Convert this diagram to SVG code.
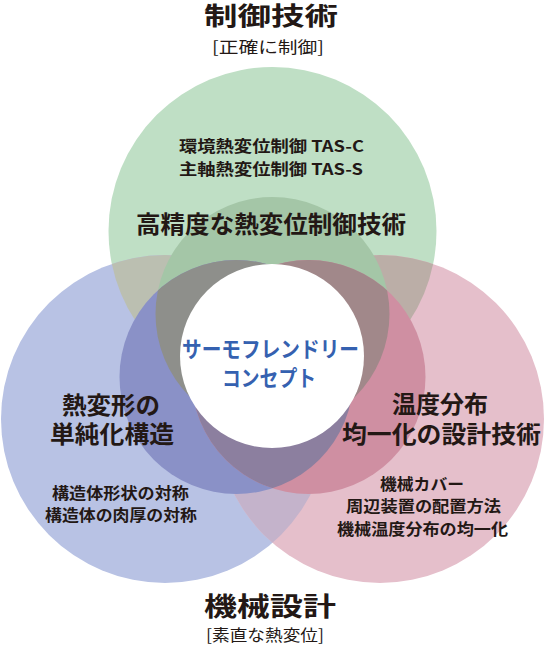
<svg xmlns="http://www.w3.org/2000/svg" xmlns:xlink="http://www.w3.org/1999/xlink" width="546" height="648" viewBox="0 0 546 648">
<style>
text{font-family:"Noto Sans CJK JP","Noto Sans",sans-serif;fill:#231815}
.t{font-size:24px;font-weight:700}
.sub{font-size:16px;font-weight:400}
.lab{font-size:24px;font-weight:700}
.it{font-size:15.5px;font-weight:700}
.cc{font-size:22px;font-weight:700;fill:#3561b0}
</style>
<defs>
<circle id="bg" cx="272.5" cy="231" r="164"/>
<circle id="bb" cx="165" cy="419" r="164"/>
<circle id="bp" cx="380" cy="419" r="164"/>
<circle id="ig" cx="272.5" cy="314" r="117"/>
<circle id="ib" cx="236.5" cy="377" r="117"/>
<circle id="ip" cx="308.5" cy="377" r="117"/>
<clipPath id="cbb"><use xlink:href="#bb"/></clipPath>
<clipPath id="cbp"><use xlink:href="#bp"/></clipPath>
<clipPath id="cib"><use xlink:href="#ib"/></clipPath>
<clipPath id="cip"><use xlink:href="#ip"/></clipPath>
</defs>
<g id="venn-fills">
<use xlink:href="#bg" fill="#bfdfc5"/>
<use xlink:href="#bb" fill="#b8c2e4"/>
<use xlink:href="#bp" fill="#e5bfcb"/>
<g clip-path="url(#cbb)"><use xlink:href="#bg" fill="#bbbfb1"/></g>
<g clip-path="url(#cbp)"><use xlink:href="#bg" fill="#bbaea7"/></g>
<g clip-path="url(#cbp)"><use xlink:href="#bb" fill="#c4b3cb"/></g>
<use xlink:href="#ig" fill="#a4c6a7"/>
<use xlink:href="#ib" fill="#8a91c7"/>
<use xlink:href="#ip" fill="#cf8fa2"/>
<g clip-path="url(#cib)"><use xlink:href="#ig" fill="#8e8f8b"/></g>
<g clip-path="url(#cip)"><use xlink:href="#ig" fill="#a1888a"/></g>
<g clip-path="url(#cip)"><use xlink:href="#ib" fill="#8c7f9f"/></g>
<g clip-path="url(#cip)"><g clip-path="url(#cib)"><use xlink:href="#ig" fill="#8e8590"/></g></g>
</g>
<g id="connectors"/>
<g id="node-control">
<text class="t" x="204" y="25" textLength="134" lengthAdjust="spacingAndGlyphs" style="font-size:25px">制御技術</text>
<text class="sub" x="212" y="52.5" textLength="112" lengthAdjust="spacingAndGlyphs">[正確に制御]</text>
<text class="it" x="179" y="152" textLength="185" lengthAdjust="spacingAndGlyphs">環境熱変位制御 TAS-C</text>
<text class="it" x="179" y="175" textLength="184" lengthAdjust="spacingAndGlyphs">主軸熱変位制御 TAS-S</text>
<text class="lab" x="136" y="233" textLength="270" lengthAdjust="spacingAndGlyphs">高精度な熱変位制御技術</text>
</g>
<g id="node-structure">
<text class="lab" x="62" y="414" textLength="98" lengthAdjust="spacingAndGlyphs">熱変形の</text>
<text class="lab" x="50" y="443" textLength="124" lengthAdjust="spacingAndGlyphs">単純化構造</text>
<text class="it" x="52" y="499" textLength="137" lengthAdjust="spacingAndGlyphs">構造体形状の対称</text>
<text class="it" x="45" y="521" textLength="152" lengthAdjust="spacingAndGlyphs">構造体の肉厚の対称</text>
</g>
<g id="node-temperature">
<text class="lab" x="392" y="413" textLength="96" lengthAdjust="spacingAndGlyphs">温度分布</text>
<text class="lab" x="342" y="443" textLength="199" lengthAdjust="spacingAndGlyphs">均一化の設計技術</text>
<text class="it" x="380" y="490" textLength="84" lengthAdjust="spacingAndGlyphs">機械カバー</text>
<text class="it" x="346" y="512" textLength="155" lengthAdjust="spacingAndGlyphs">周辺装置の配置方法</text>
<text class="it" x="337" y="535" textLength="171" lengthAdjust="spacingAndGlyphs">機械温度分布の均一化</text>
</g>
<g id="node-mechanical">
<text class="t" x="204" y="616" textLength="132" lengthAdjust="spacingAndGlyphs" style="font-size:26px">機械設計</text>
<text class="sub" x="206" y="641" textLength="118" lengthAdjust="spacingAndGlyphs">[素直な熱変位]</text>
</g>
<g id="node-concept">
<circle cx="272" cy="356" r="92" fill="#ffffff"/>
<text class="cc" x="182" y="357" textLength="177" lengthAdjust="spacingAndGlyphs">サーモフレンドリー</text>
<text class="cc" x="222" y="386" textLength="94" lengthAdjust="spacingAndGlyphs">コンセプト</text>
</g>
</svg>
